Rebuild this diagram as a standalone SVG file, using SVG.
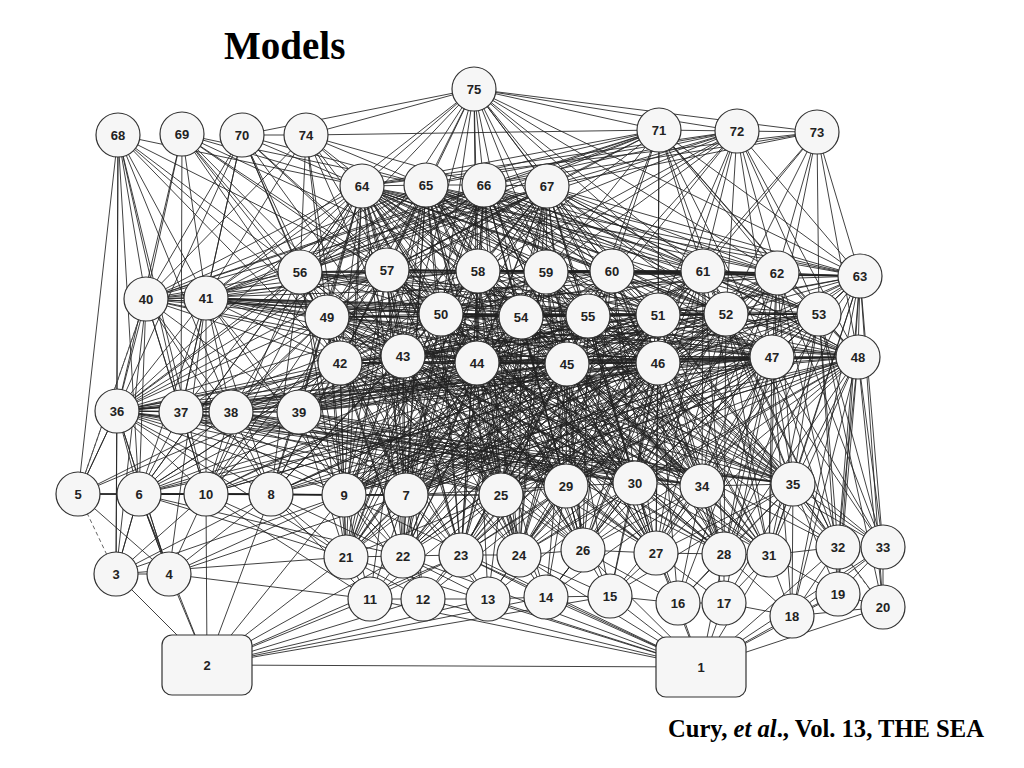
<svg xmlns="http://www.w3.org/2000/svg" width="1024" height="768" viewBox="0 0 1024 768">
<style>
.e{fill:none;stroke:#222;stroke-width:0.95;stroke-opacity:0.9}
.d{fill:none;stroke:#555;stroke-width:0.9;stroke-dasharray:4 3}
.n circle,.n rect{fill:#f6f6f6;stroke:#333;stroke-width:1.2}
.n text{font-family:"Liberation Sans",Arial,sans-serif;font-weight:bold;font-size:13px;fill:#222;text-anchor:middle}
.t{font-family:"Liberation Serif","Times New Roman",serif;font-weight:bold;fill:#000}
</style>
<rect width="1024" height="768" fill="#fff"/>
<text class="t" x="224" y="59" font-size="39">Models</text>
<text class="t" x="668" y="737" font-size="24.6">Cury, <tspan font-style="italic">et al</tspan>., Vol. 13, THE SEA</text>
<g id="connectors">
<path class="e" d="M474 89L306 135M474 89L242 135M474 89L362 186M474 89L426 185M474 89L484 185M474 89L547 186M474 89L659 130M474 89L737 131M474 89L817 132M474 89L300 272M474 89L387 270M474 89L478 271M474 89L546 272M474 89L612 271M474 89L703 271M474 89L777 273M474 89L860 276M474 89L206 298M474 89L441 314M474 89L521 317M474 89L588 316M474 89L658 315M474 89L726 314M474 89L327 317M474 89L403 356M474 89L477 363
M306 135L659 130M242 135L306 135
M118 135L146 299M118 135L117 411M118 135L78 494M118 135L139 494M118 135L206 298M118 135L300 272M118 135L362 186M118 135L327 317M118 135L340 363M118 135L181 412M118 135L116 574M118 135L231 412M118 135L206 494M118 135L387 270
M182 134L146 299M182 134L206 298M182 134L117 411M182 134L181 412M182 134L300 272M182 134L362 186M182 134L327 317M182 134L340 363M182 134L403 356M182 134L426 185M182 134L387 270M182 134L441 314M182 134L478 271
M242 135L146 299M242 135L206 298M242 135L300 272M242 135L327 317M242 135L340 363M242 135L362 186M242 135L387 270M242 135L181 412M242 135L441 314M242 135L426 185M242 135L117 411M242 135L403 356
M306 135L146 299M306 135L206 298M306 135L300 272M306 135L362 186M306 135L387 270M306 135L327 317M306 135L441 314M306 135L426 185M306 135L484 185M306 135L403 356M306 135L340 363M306 135L478 271
M659 130L737 131M659 130L860 276M659 130L777 273M659 130L703 271M659 130L726 314M659 130L819 314M659 130L658 315M659 130L772 357M659 130L858 357M659 130L362 186M659 130L426 185M659 130L484 185M659 130L547 186M659 130L387 270M659 130L478 271M659 130L546 272M659 130L612 271M659 130L300 272M659 130L658 363M659 130L206 298M659 130L146 299M659 130L588 316
M737 131L817 132M737 131L860 276M737 131L777 273M737 131L703 271M737 131L819 314M737 131L726 314M737 131L772 357M737 131L858 357M737 131L300 272M737 131L362 186M737 131L426 185M737 131L484 185M737 131L547 186M737 131L588 316M737 131L658 315M737 131L658 363M737 131L612 271M737 131L546 272M737 131L478 271M737 131L441 314M737 131L387 270
M817 132L860 276M817 132L777 273M817 132L858 357M817 132L819 314M817 132L772 357M817 132L703 271M817 132L726 314M817 132L362 186M817 132L547 186M817 132L484 185M817 132L658 315"/>
<path class="e" d="M362 186L426 185M362 186L146 299M362 186L206 298M362 186L300 272M362 186L387 270M362 186L478 271M362 186L546 272M362 186L612 271M362 186L703 271M362 186L777 273M362 186L860 276M362 186L327 317M362 186L441 314M362 186L521 317M362 186L588 316M362 186L658 315M362 186L726 314M362 186L819 314M362 186L340 363M362 186L403 356M362 186L477 363M362 186L567 364M362 186L658 363M362 186L772 357M362 186L858 357M362 186L117 411M362 186L181 412M362 186L231 412M362 186L299 412M362 186L344 495M362 186L406 495M362 186L501 495M362 186L566 486M362 186L635 483M362 186L702 486M362 186L793 484M362 186L346 557M362 186L403 556M362 186L139 494M362 186L206 494M362 186L271 494
M426 185L484 185M426 185L146 299M426 185L206 298M426 185L300 272M426 185L387 270M426 185L478 271M426 185L546 272M426 185L612 271M426 185L703 271M426 185L777 273M426 185L860 276M426 185L327 317M426 185L441 314M426 185L521 317M426 185L588 316M426 185L658 315M426 185L726 314M426 185L819 314M426 185L340 363M426 185L403 356M426 185L477 363M426 185L567 364M426 185L658 363M426 185L772 357M426 185L858 357M426 185L117 411M426 185L299 412M426 185L344 495M426 185L406 495M426 185L501 495M426 185L566 486M426 185L635 483M426 185L702 486M426 185L403 556M426 185L461 555
M484 185L547 186M484 185L146 299M484 185L206 298M484 185L300 272M484 185L387 270M484 185L478 271M484 185L546 272M484 185L612 271M484 185L703 271M484 185L777 273M484 185L860 276M484 185L327 317M484 185L441 314M484 185L521 317M484 185L588 316M484 185L658 315M484 185L726 314M484 185L819 314M484 185L340 363M484 185L403 356M484 185L477 363M484 185L567 364M484 185L658 363M484 185L772 357M484 185L858 357M484 185L117 411M484 185L501 495M484 185L566 486M484 185L635 483M484 185L793 484M484 185L406 495M484 185L519 555
M547 186L146 299M547 186L206 298M547 186L300 272M547 186L387 270M547 186L478 271M547 186L546 272M547 186L612 271M547 186L703 271M547 186L777 273M547 186L860 276M547 186L327 317M547 186L441 314M547 186L521 317M547 186L588 316M547 186L658 315M547 186L726 314M547 186L819 314M547 186L340 363M547 186L403 356M547 186L477 363M547 186L567 364M547 186L658 363M547 186L772 357M547 186L858 357M547 186L117 411M547 186L501 495M547 186L635 483M547 186L702 486M547 186L583 550M547 186L344 495"/>
<path class="e" d="M146 299L206 298M146 299L117 411M146 299L78 494M146 299L139 494M146 299L116 574M146 299L300 272M146 299L327 317M146 299L387 270M146 299L441 314M146 299L340 363M146 299L403 356M146 299L181 412M146 299L231 412M146 299L299 412M146 299L206 494M146 299L271 494M146 299L477 363M146 299L478 271M146 299L521 317M146 299L860 276
M206 298L300 272M206 298L327 317M206 298L441 314M206 298L387 270M206 298L478 271M206 298L521 317M206 298L588 316M206 298L658 315M206 298L726 314M206 298L819 314M206 298L340 363M206 298L403 356M206 298L477 363M206 298L117 411M206 298L181 412M206 298L231 412M206 298L299 412M206 298L139 494M206 298L206 494M206 298L271 494M206 298L344 495M206 298L169 574M206 298L567 364M206 298L658 363M206 298L772 357
M117 411L181 412M117 411L231 412M117 411L299 412M117 411L78 494M117 411L139 494M117 411L116 574M117 411L169 574M117 411L206 494M117 411L271 494M117 411L344 495M117 411L340 363M117 411L403 356M117 411L477 363M117 411L567 364M117 411L658 363M117 411L772 357M117 411L858 357M117 411L327 317M117 411L441 314M117 411L300 272M117 411L406 495M117 411L501 495M117 411L346 557M117 411L566 486M117 411L635 483M117 411L702 486M117 411L793 484
M181 412L231 412M181 412L340 363M181 412L327 317M181 412L403 356M181 412L441 314M181 412L139 494M181 412L206 494M181 412L477 363M181 412L567 364M181 412L658 363M181 412L344 495M181 412L406 495M181 412L501 495M181 412L566 486M181 412L635 483M181 412L702 486M181 412L793 484
M231 412L299 412M231 412L340 363M231 412L327 317M231 412L403 356M231 412L477 363M231 412L567 364M231 412L658 363M231 412L772 357M231 412L206 494M231 412L271 494M231 412L566 486M231 412L635 483M231 412L501 495M231 412L702 486M231 412L793 484
M299 412L340 363M299 412L403 356M299 412L477 363M299 412L567 364M299 412L658 363M299 412L772 357M299 412L858 357M299 412L327 317M299 412L441 314M299 412L521 317M299 412L588 316M299 412L658 315M299 412L726 314M299 412L819 314M299 412L344 495M299 412L406 495M299 412L501 495M299 412L566 486M299 412L635 483M299 412L702 486M299 412L793 484M299 412L346 557M299 412L403 556"/>
<path class="e" d="M340 363L344 495M340 363L406 495M340 363L501 495M340 363L566 486M340 363L635 483M340 363L702 486M340 363L793 484M340 363L346 557M340 363L403 556M340 363L461 555M340 363L519 555M340 363L583 550M340 363L656 553M340 363L271 494M340 363L206 494M340 363L139 494M340 363L724 554
M403 356L344 495M403 356L406 495M403 356L501 495M403 356L566 486M403 356L635 483M403 356L702 486M403 356L793 484M403 356L346 557M403 356L403 556M403 356L461 555M403 356L519 555M403 356L583 550M403 356L656 553M403 356L724 554M403 356L769 555M403 356L271 494M403 356L370 599M403 356L423 599
M477 363L344 495M477 363L406 495M477 363L501 495M477 363L566 486M477 363L635 483M477 363L702 486M477 363L793 484M477 363L346 557M477 363L403 556M477 363L461 555M477 363L519 555M477 363L583 550M477 363L656 553M477 363L724 554M477 363L769 555M477 363L838 547M477 363L488 599M477 363L546 597
M567 364L344 495M567 364L406 495M567 364L501 495M567 364L566 486M567 364L635 483M567 364L702 486M567 364L793 484M567 364L346 557M567 364L403 556M567 364L461 555M567 364L519 555M567 364L583 550M567 364L656 553M567 364L724 554M567 364L769 555M567 364L838 547M567 364L883 547M567 364L546 597M567 364L610 596M567 364L271 494
M658 363L344 495M658 363L406 495M658 363L501 495M658 363L566 486M658 363L635 483M658 363L702 486M658 363L793 484M658 363L403 556M658 363L461 555M658 363L519 555M658 363L583 550M658 363L656 553M658 363L724 554M658 363L769 555M658 363L838 547M658 363L883 547M658 363L610 596M658 363L678 603M658 363L206 494
M772 357L344 495M772 357L406 495M772 357L501 495M772 357L566 486M772 357L635 483M772 357L702 486M772 357L793 484M772 357L461 555M772 357L519 555M772 357L583 550M772 357L656 553M772 357L724 554M772 357L769 555M772 357L838 547M772 357L883 547M772 357L678 603M772 357L724 603M772 357L792 616M772 357L139 494
M858 357L406 495M858 357L501 495M858 357L566 486M858 357L635 483M858 357L702 486M858 357L793 484M858 357L519 555M858 357L583 550M858 357L656 553M858 357L724 554M858 357L769 555M858 357L838 547M858 357L883 547M858 357L792 616M858 357L838 594M858 357L883 607M858 357L344 495M858 357L271 494
M327 317L344 495M327 317L406 495M327 317L501 495M327 317L566 486M327 317L635 483M327 317L702 486M327 317L346 557M327 317L403 556M327 317L271 494M327 317L206 494M327 317L139 494M327 317L793 484
M441 314L344 495M441 314L406 495M441 314L501 495M441 314L566 486M441 314L635 483M441 314L702 486M441 314L793 484M441 314L403 556M441 314L461 555M441 314L519 555M441 314L271 494
M521 317L406 495M521 317L501 495M521 317L566 486M521 317L635 483M521 317L702 486M521 317L793 484M521 317L461 555M521 317L519 555M521 317L583 550M521 317L344 495
M588 316L406 495M588 316L501 495M588 316L566 486M588 316L635 483M588 316L702 486M588 316L793 484M588 316L519 555M588 316L583 550M588 316L656 553M588 316L344 495M588 316L206 494
M658 315L501 495M658 315L566 486M658 315L635 483M658 315L702 486M658 315L793 484M658 315L583 550M658 315L656 553M658 315L724 554M658 315L406 495M658 315L344 495M658 315L271 494
M726 314L501 495M726 314L566 486M726 314L635 483M726 314L702 486M726 314L793 484M726 314L656 553M726 314L724 554M726 314L769 555M726 314L406 495M726 314L344 495
M819 314L566 486M819 314L635 483M819 314L702 486M819 314L793 484M819 314L724 554M819 314L769 555M819 314L838 547M819 314L883 547M819 314L838 594M819 314L883 607M819 314L501 495M819 314L406 495
M300 272L344 495M300 272L406 495M300 272L501 495M300 272L566 486M300 272L271 494M300 272L206 494M300 272L139 494M300 272L346 557M300 272L635 483
M387 270L344 495M387 270L406 495M387 270L501 495M387 270L566 486M387 270L635 483M387 270L702 486M387 270L403 556M387 270L271 494M387 270L206 494
M478 271L406 495M478 271L501 495M478 271L566 486M478 271L635 483M478 271L702 486M478 271L793 484M478 271L461 555M478 271L344 495
M546 272L501 495M546 272L566 486M546 272L635 483M546 272L702 486M546 272L793 484M546 272L519 555M546 272L406 495
M612 271L501 495M612 271L566 486M612 271L635 483M612 271L702 486M612 271L793 484M612 271L583 550M612 271L344 495
M703 271L566 486M703 271L635 483M703 271L702 486M703 271L793 484M703 271L656 553M703 271L724 554M703 271L501 495M703 271L406 495
M777 273L635 483M777 273L702 486M777 273L793 484M777 273L724 554M777 273L769 555M777 273L501 495M777 273L344 495
M860 276L702 486M860 276L793 484M860 276L769 555M860 276L838 547M860 276L883 547M860 276L838 594M860 276L883 607M860 276L792 616M860 276L635 483M860 276L566 486M860 276L724 554M860 276L501 495M860 276L406 495M860 276L117 411"/>
<path class="e" d="M387 270L346 557M387 270L461 555M387 270L519 555M387 270L583 550M387 270L656 553M387 270L724 554
M478 271L346 557M478 271L403 556M478 271L519 555M478 271L583 550M478 271L656 553M478 271L724 554M478 271L769 555
M546 272L346 557M546 272L403 556M546 272L461 555M546 272L583 550M546 272L656 553M546 272L724 554M546 272L769 555M546 272L344 495
M612 271L403 556M612 271L461 555M612 271L519 555M612 271L656 553M612 271L724 554M612 271L769 555M612 271L406 495
M703 271L403 556M703 271L461 555M703 271L519 555M703 271L583 550M703 271L769 555M703 271L838 547M703 271L344 495
M777 273L461 555M777 273L519 555M777 273L583 550M777 273L656 553M777 273L838 547M777 273L883 547M777 273L406 495
M327 317L461 555M327 317L519 555M327 317L583 550M327 317L656 553M327 317L724 554
M441 314L346 557M441 314L583 550M441 314L656 553M441 314L724 554M441 314L769 555
M521 317L346 557M521 317L403 556M521 317L656 553M521 317L724 554M521 317L769 555
M588 316L346 557M588 316L403 556M588 316L461 555M588 316L724 554M588 316L769 555
M658 315L346 557M658 315L403 556M658 315L461 555M658 315L519 555M658 315L769 555M658 315L838 547
M726 314L403 556M726 314L461 555M726 314L519 555M726 314L583 550M726 314L838 547M726 314L883 547
M362 186L461 555M362 186L519 555M362 186L583 550M362 186L656 553
M426 185L346 557M426 185L519 555M426 185L583 550M426 185L656 553
M484 185L346 557M484 185L403 556M484 185L461 555M484 185L583 550M484 185L656 553
M547 186L346 557M547 186L403 556M547 186L461 555M547 186L519 555M547 186L656 553M547 186L724 554
M139 494L658 363M206 494L567 364M206 494L658 363M271 494L658 363M271 494L772 357M344 495L772 357M344 495L658 363M406 495L772 357M406 495L858 357"/>
<path class="e" d="M300 272L387 270M300 272L327 317M300 272L441 314M300 272L478 271M300 272L521 317M300 272L588 316M300 272L658 315M300 272L726 314M300 272L819 314M300 272L777 273M300 272L860 276M300 272L340 363M300 272L403 356
M327 317L441 314M327 317L521 317M327 317L588 316M327 317L658 315M327 317L726 314M327 317L819 314M327 317L340 363M327 317L403 356M327 317L477 363M327 317L567 364M327 317L658 363M327 317L772 357M327 317L858 357
M441 314L521 317M441 314L588 316M441 314L658 315M441 314L726 314M441 314L819 314M441 314L403 356M441 314L477 363M441 314L567 364M441 314L658 363M441 314L772 357M441 314L858 357M441 314L340 363
M521 317L588 316M521 317L658 315M521 317L726 314M521 317L819 314M521 317L477 363M521 317L567 364M521 317L658 363M521 317L772 357M521 317L858 357M521 317L340 363M521 317L403 356
M588 316L658 315M588 316L726 314M588 316L819 314M588 316L567 364M588 316L658 363M588 316L772 357M588 316L858 357M588 316L340 363M588 316L403 356M588 316L477 363
M658 315L726 314M658 315L819 314M658 315L658 363M658 315L772 357M658 315L858 357M658 315L340 363M658 315L403 356M658 315L477 363M658 315L567 364
M726 314L819 314M726 314L772 357M726 314L858 357M726 314L340 363M726 314L403 356M726 314L477 363M726 314L567 364M726 314L658 363
M819 314L858 357M819 314L772 357M819 314L860 276M819 314L340 363M819 314L403 356M819 314L477 363M819 314L567 364M819 314L658 363
M387 270L478 271M387 270L546 272M387 270L612 271M387 270L703 271M387 270L777 273M387 270L860 276M387 270L441 314M387 270L521 317M387 270L588 316M387 270L403 356M387 270L477 363M387 270L327 317M387 270L340 363
M478 271L546 272M478 271L612 271M478 271L703 271M478 271L777 273M478 271L860 276M478 271L521 317M478 271L588 316M478 271L477 363M478 271L567 364M478 271L327 317M478 271L441 314M478 271L340 363M478 271L658 315
M546 272L612 271M546 272L703 271M546 272L777 273M546 272L860 276M546 272L588 316M546 272L658 315M546 272L567 364M546 272L658 363M546 272L327 317M546 272L441 314M546 272L340 363M546 272L403 356
M612 271L703 271M612 271L777 273M612 271L860 276M612 271L658 315M612 271L726 314M612 271L658 363M612 271L772 357M612 271L327 317M612 271L441 314M612 271L403 356M612 271L477 363
M703 271L777 273M703 271L860 276M703 271L726 314M703 271L819 314M703 271L772 357M703 271L858 357M703 271L441 314M703 271L521 317M703 271L477 363M703 271L567 364
M777 273L860 276M777 273L819 314M777 273L772 357M777 273L858 357M777 273L327 317M777 273L521 317M777 273L567 364M777 273L658 363
M860 276L858 357M860 276L772 357M860 276L726 314M860 276L658 315M860 276L658 363
M340 363L403 356M340 363L477 363M340 363L567 364M340 363L658 363M340 363L772 357M340 363L858 357
M403 356L477 363M403 356L567 364M403 356L658 363M403 356L772 357M403 356L858 357
M477 363L567 364M477 363L658 363M477 363L772 357M477 363L858 357
M567 364L658 363M567 364L772 357M567 364L858 357M658 363L772 357M658 363L858 357M772 357L858 357"/>
<path class="e" d="M78 494L139 494M78 494L206 494M78 494L271 494M78 494L117 411M78 494L169 574M78 494L344 495M78 494L340 363M78 494L403 356
M139 494L206 494M139 494L271 494M139 494L344 495M139 494L406 495M139 494L346 557M139 494L169 574M139 494L116 574M139 494L403 556M139 494L340 363M139 494L403 356M139 494L477 363M139 494L567 364
M206 494L271 494M206 494L344 495M206 494L406 495M206 494L346 557M206 494L169 574M206 494L116 574M206 494L207 665M206 494L370 599M206 494L340 363M206 494L477 363
M271 494L344 495M271 494L406 495M271 494L346 557M271 494L169 574M271 494L403 556M271 494L370 599M271 494L207 665M271 494L403 356M271 494L567 364
M344 495L406 495M344 495L346 557M344 495L403 556M344 495L370 599M344 495L423 599M344 495L501 495
M406 495L501 495M406 495L346 557M406 495L403 556M406 495L461 555M406 495L370 599M406 495L423 599M406 495L488 599M406 495L566 486
M501 495L566 486M501 495L461 555M501 495L519 555M501 495L583 550M501 495L423 599M501 495L488 599M501 495L546 597M501 495L403 556M501 495L346 557
M566 486L635 483M566 486L519 555M566 486L583 550M566 486L656 553M566 486L488 599M566 486L546 597M566 486L610 596M566 486L461 555
M635 483L702 486M635 483L583 550M635 483L656 553M635 483L724 554M635 483L546 597M635 483L610 596M635 483L678 603M635 483L519 555
M702 486L793 484M702 486L656 553M702 486L724 554M702 486L769 555M702 486L610 596M702 486L678 603M702 486L724 603M702 486L583 550
M793 484L724 554M793 484L769 555M793 484L838 547M793 484L883 547M793 484L724 603M793 484L792 616M793 484L838 594M793 484L883 607M793 484L656 553"/>
<path class="e" d="M701 667L370 599M701 667L423 599M701 667L488 599M701 667L546 597M701 667L610 596M701 667L678 603M701 667L724 603M701 667L792 616M701 667L838 594M701 667L883 607M701 667L346 557M701 667L403 556M701 667L461 555M701 667L519 555M701 667L583 550M701 667L656 553M701 667L724 554M701 667L207 665M701 667L344 495M701 667L883 547M701 667L838 547M701 667L769 555
M207 665L116 574M207 665L169 574M207 665L139 494M207 665L344 495M207 665L346 557M207 665L370 599M207 665L423 599M207 665L488 599M207 665L546 597M207 665L610 596M207 665L403 556M207 665L461 555
M116 574L169 574M116 574L139 494M116 574L271 494M116 574L344 495M116 574L346 557
M169 574L139 494M169 574L344 495M169 574L370 599M169 574L117 411M169 574L406 495
M370 599L346 557M370 599L403 556M370 599L501 495M370 599L461 555
M423 599L403 556M423 599L461 555M423 599L566 486M423 599L346 557
M488 599L461 555M488 599L519 555M488 599L635 483M488 599L403 556
M546 597L519 555M546 597L583 550M546 597L635 483M546 597L702 486M546 597L461 555
M610 596L583 550M610 596L656 553M610 596L793 484M610 596L519 555
M678 603L656 553M678 603L724 554M678 603L793 484M678 603L583 550
M724 603L724 554M724 603L769 555M724 603L656 553
M792 616L769 555M792 616L838 547M792 616L838 594M792 616L883 547M792 616L724 554M792 616L883 607
M838 594L838 547M838 594L883 547M838 594L883 607M838 594L769 555M883 607L883 547
M346 557L403 556L461 555L519 555L583 550L656 553L724 554L769 555L838 547L883 547
M370 599L423 599L488 599L546 597L610 596L678 603L724 603L792 616"/>
<path class="d" d="M78 494L116 574M838 547L883 607M78 494L146 299"/>
</g>
<g class="n" id="node-75"><circle cx="474" cy="89" r="22"/><text x="474" y="94">75</text></g>
<g class="n" id="node-68"><circle cx="118" cy="135" r="22"/><text x="118" y="140">68</text></g>
<g class="n" id="node-69"><circle cx="182" cy="134" r="22"/><text x="182" y="139">69</text></g>
<g class="n" id="node-70"><circle cx="242" cy="135" r="22"/><text x="242" y="140">70</text></g>
<g class="n" id="node-74"><circle cx="306" cy="135" r="22"/><text x="306" y="140">74</text></g>
<g class="n" id="node-71"><circle cx="659" cy="130" r="22"/><text x="659" y="135">71</text></g>
<g class="n" id="node-72"><circle cx="737" cy="131" r="22"/><text x="737" y="136">72</text></g>
<g class="n" id="node-73"><circle cx="817" cy="132" r="22"/><text x="817" y="137">73</text></g>
<g class="n" id="node-64"><circle cx="362" cy="186" r="22"/><text x="362" y="191">64</text></g>
<g class="n" id="node-65"><circle cx="426" cy="185" r="22"/><text x="426" y="190">65</text></g>
<g class="n" id="node-66"><circle cx="484" cy="185" r="22"/><text x="484" y="190">66</text></g>
<g class="n" id="node-67"><circle cx="547" cy="186" r="22"/><text x="547" y="191">67</text></g>
<g class="n" id="node-56"><circle cx="300" cy="272" r="22"/><text x="300" y="277">56</text></g>
<g class="n" id="node-57"><circle cx="387" cy="270" r="22"/><text x="387" y="275">57</text></g>
<g class="n" id="node-58"><circle cx="478" cy="271" r="22"/><text x="478" y="276">58</text></g>
<g class="n" id="node-59"><circle cx="546" cy="272" r="22"/><text x="546" y="277">59</text></g>
<g class="n" id="node-60"><circle cx="612" cy="271" r="22"/><text x="612" y="276">60</text></g>
<g class="n" id="node-61"><circle cx="703" cy="271" r="22"/><text x="703" y="276">61</text></g>
<g class="n" id="node-62"><circle cx="777" cy="273" r="22"/><text x="777" y="278">62</text></g>
<g class="n" id="node-63"><circle cx="860" cy="276" r="22"/><text x="860" y="281">63</text></g>
<g class="n" id="node-40"><circle cx="146" cy="299" r="22"/><text x="146" y="304">40</text></g>
<g class="n" id="node-41"><circle cx="206" cy="298" r="22"/><text x="206" y="303">41</text></g>
<g class="n" id="node-49"><circle cx="327" cy="317" r="22"/><text x="327" y="322">49</text></g>
<g class="n" id="node-50"><circle cx="441" cy="314" r="22"/><text x="441" y="319">50</text></g>
<g class="n" id="node-54"><circle cx="521" cy="317" r="22"/><text x="521" y="322">54</text></g>
<g class="n" id="node-55"><circle cx="588" cy="316" r="22"/><text x="588" y="321">55</text></g>
<g class="n" id="node-51"><circle cx="658" cy="315" r="22"/><text x="658" y="320">51</text></g>
<g class="n" id="node-52"><circle cx="726" cy="314" r="22"/><text x="726" y="319">52</text></g>
<g class="n" id="node-53"><circle cx="819" cy="314" r="22"/><text x="819" y="319">53</text></g>
<g class="n" id="node-42"><circle cx="340" cy="363" r="22"/><text x="340" y="368">42</text></g>
<g class="n" id="node-43"><circle cx="403" cy="356" r="22"/><text x="403" y="361">43</text></g>
<g class="n" id="node-44"><circle cx="477" cy="363" r="22"/><text x="477" y="368">44</text></g>
<g class="n" id="node-45"><circle cx="567" cy="364" r="22"/><text x="567" y="369">45</text></g>
<g class="n" id="node-46"><circle cx="658" cy="363" r="22"/><text x="658" y="368">46</text></g>
<g class="n" id="node-47"><circle cx="772" cy="357" r="22"/><text x="772" y="362">47</text></g>
<g class="n" id="node-48"><circle cx="858" cy="357" r="22"/><text x="858" y="362">48</text></g>
<g class="n" id="node-36"><circle cx="117" cy="411" r="22"/><text x="117" y="416">36</text></g>
<g class="n" id="node-37"><circle cx="181" cy="412" r="22"/><text x="181" y="417">37</text></g>
<g class="n" id="node-38"><circle cx="231" cy="412" r="22"/><text x="231" y="417">38</text></g>
<g class="n" id="node-39"><circle cx="299" cy="412" r="22"/><text x="299" y="417">39</text></g>
<g class="n" id="node-5"><circle cx="78" cy="494" r="22"/><text x="78" y="499">5</text></g>
<g class="n" id="node-6"><circle cx="139" cy="494" r="22"/><text x="139" y="499">6</text></g>
<g class="n" id="node-10"><circle cx="206" cy="494" r="22"/><text x="206" y="499">10</text></g>
<g class="n" id="node-8"><circle cx="271" cy="494" r="22"/><text x="271" y="499">8</text></g>
<g class="n" id="node-9"><circle cx="344" cy="495" r="22"/><text x="344" y="500">9</text></g>
<g class="n" id="node-7"><circle cx="406" cy="495" r="22"/><text x="406" y="500">7</text></g>
<g class="n" id="node-25"><circle cx="501" cy="495" r="22"/><text x="501" y="500">25</text></g>
<g class="n" id="node-29"><circle cx="566" cy="486" r="22"/><text x="566" y="491">29</text></g>
<g class="n" id="node-30"><circle cx="635" cy="483" r="22"/><text x="635" y="488">30</text></g>
<g class="n" id="node-34"><circle cx="702" cy="486" r="22"/><text x="702" y="491">34</text></g>
<g class="n" id="node-35"><circle cx="793" cy="484" r="22"/><text x="793" y="489">35</text></g>
<g class="n" id="node-3"><circle cx="116" cy="574" r="22"/><text x="116" y="579">3</text></g>
<g class="n" id="node-4"><circle cx="169" cy="574" r="22"/><text x="169" y="579">4</text></g>
<g class="n" id="node-21"><circle cx="346" cy="557" r="22"/><text x="346" y="562">21</text></g>
<g class="n" id="node-22"><circle cx="403" cy="556" r="22"/><text x="403" y="561">22</text></g>
<g class="n" id="node-23"><circle cx="461" cy="555" r="22"/><text x="461" y="560">23</text></g>
<g class="n" id="node-24"><circle cx="519" cy="555" r="22"/><text x="519" y="560">24</text></g>
<g class="n" id="node-26"><circle cx="583" cy="550" r="22"/><text x="583" y="555">26</text></g>
<g class="n" id="node-27"><circle cx="656" cy="553" r="22"/><text x="656" y="558">27</text></g>
<g class="n" id="node-28"><circle cx="724" cy="554" r="22"/><text x="724" y="559">28</text></g>
<g class="n" id="node-31"><circle cx="769" cy="555" r="22"/><text x="769" y="560">31</text></g>
<g class="n" id="node-32"><circle cx="838" cy="547" r="22"/><text x="838" y="552">32</text></g>
<g class="n" id="node-33"><circle cx="883" cy="547" r="22"/><text x="883" y="552">33</text></g>
<g class="n" id="node-11"><circle cx="370" cy="599" r="22"/><text x="370" y="604">11</text></g>
<g class="n" id="node-12"><circle cx="423" cy="599" r="22"/><text x="423" y="604">12</text></g>
<g class="n" id="node-13"><circle cx="488" cy="599" r="22"/><text x="488" y="604">13</text></g>
<g class="n" id="node-14"><circle cx="546" cy="597" r="22"/><text x="546" y="602">14</text></g>
<g class="n" id="node-15"><circle cx="610" cy="596" r="22"/><text x="610" y="601">15</text></g>
<g class="n" id="node-16"><circle cx="678" cy="603" r="22"/><text x="678" y="608">16</text></g>
<g class="n" id="node-17"><circle cx="724" cy="603" r="22"/><text x="724" y="608">17</text></g>
<g class="n" id="node-18"><circle cx="792" cy="616" r="22"/><text x="792" y="621">18</text></g>
<g class="n" id="node-19"><circle cx="838" cy="594" r="22"/><text x="838" y="599">19</text></g>
<g class="n" id="node-20"><circle cx="883" cy="607" r="22"/><text x="883" y="612">20</text></g>
<g class="n" id="node-2"><rect x="162" y="635" width="90" height="60" rx="10"/><text x="207" y="670">2</text></g>
<g class="n" id="node-1"><rect x="656" y="637" width="90" height="60" rx="10"/><text x="701" y="672">1</text></g>
</svg>
